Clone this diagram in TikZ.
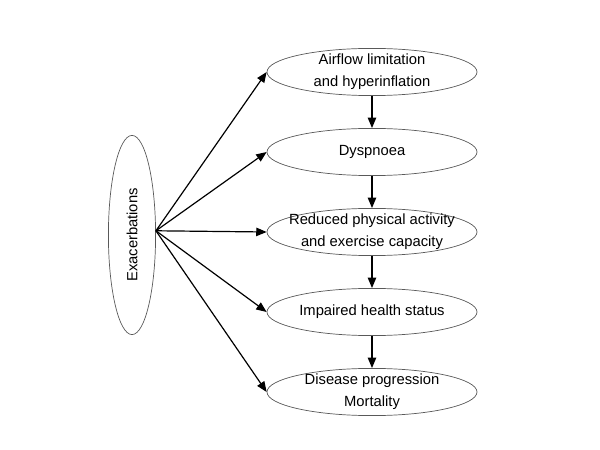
\documentclass[tikz,border=0pt]{standalone}
\usepackage{fontspec}
\setmainfont{Liberation Sans}
\usepackage{tikz}
\usetikzlibrary{shapes.geometric}
\usetikzlibrary{arrows.meta}
\tikzset{
    effnode/.style = {ellipse, draw=black!65, line width=0.5pt, align=center, inner xsep=-0.3cm, inner ysep=-0.1cm, minimum width=5.25cm, minimum height=1.18cm},
    causenode/.style = {ellipse, draw=black!65, line width=0.5pt, align=center, inner sep=0pt, minimum width=1.18cm, minimum height=4.98cm},
}

\begin{document}
\begin{tikzpicture}[
	font=\fontsize{10.5}{15.5}\selectfont
]
\tikzset{
    arr/.style = {-{Triangle[length=2.6mm,width=2.1mm]}, line width=0.85pt, black}
}
\useasboundingbox (0,0) rectangle (15,11.25);
\node[causenode] at (3.3,5.375) (x) {\rotatebox{90}{Exacerbations}};
\node[effnode] at (9.3,9.45) (a) {Airflow limitation\\and hyperinflation};
\node[effnode] at (9.3,7.45) (b) {Dyspnoea};
\node[effnode] at (9.3,5.45) (c) {Reduced physical activity\\and exercise capacity};
\node[effnode] at (9.3,3.45) (d) {Impaired health status};
\node[effnode] at (9.3,1.45) (e) {Disease progression\\Mortality};
\coordinate (src) at (x.10);
%
\draw[arr] (src) -- (a.west);
\draw[arr] (src) -- (b.west);
\draw[arr] (src) -- (c.west);
\draw[arr] (src) -- (d.west);
\draw[arr] (src) -- (e.west);
%
\draw[arr] (a) -- (b);
\draw[arr] (b) -- (c);
\draw[arr] (c) -- (d);
\draw[arr] (d) -- (e);
\end{tikzpicture}
\end{document}
